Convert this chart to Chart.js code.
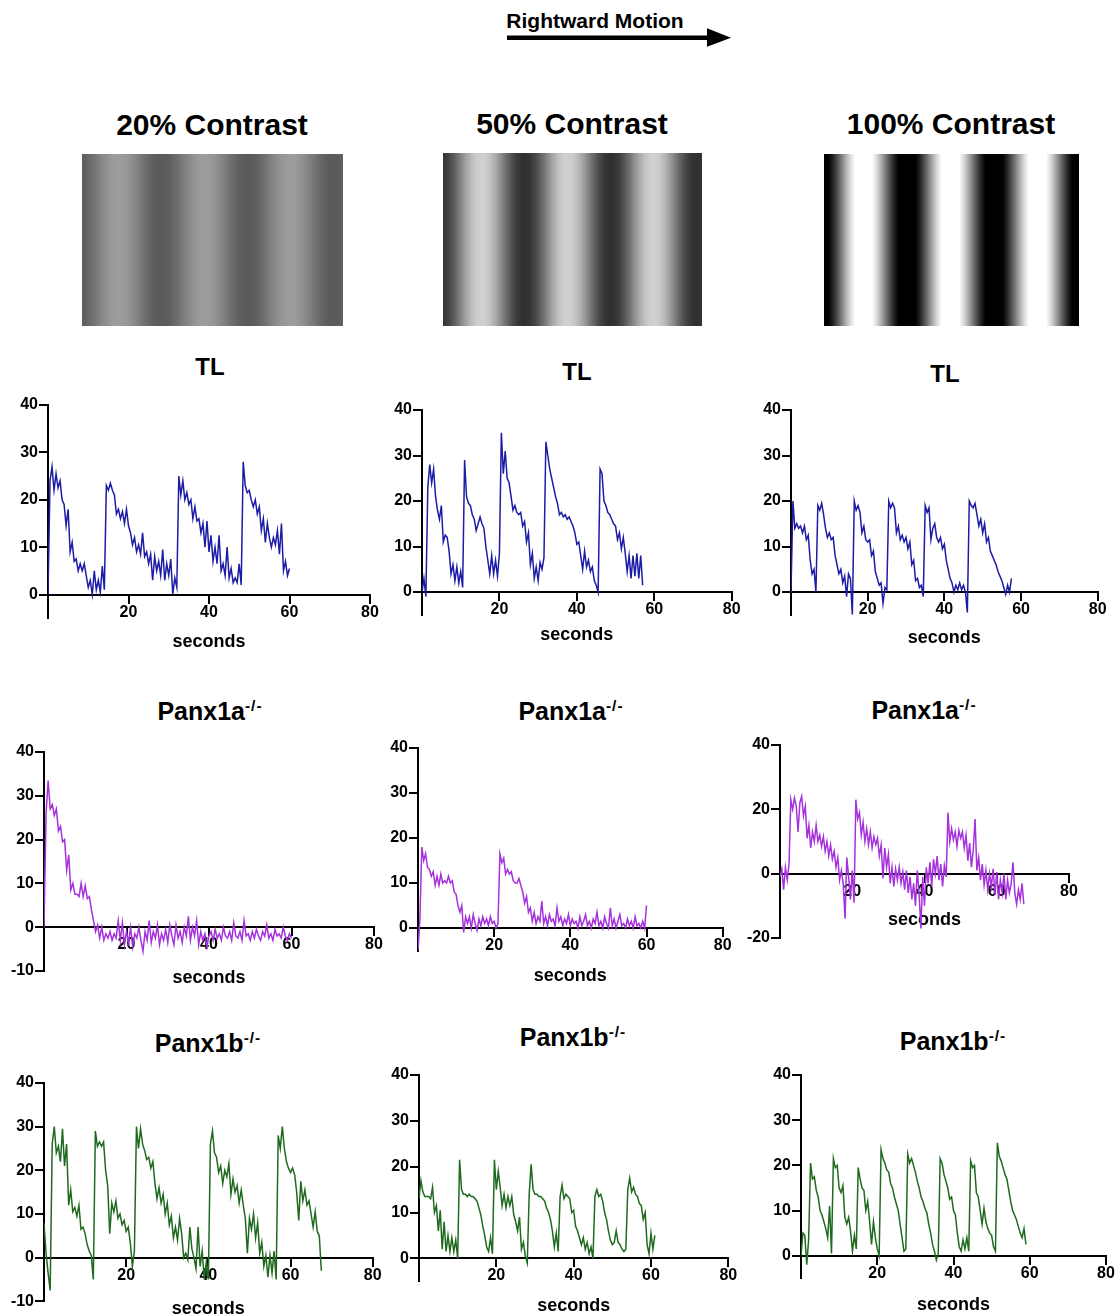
<!DOCTYPE html>
<html>
<head>
<meta charset="utf-8">
<script src="https://cdn.jsdelivr.net/npm/chart.js@4.4.0/dist/chart.umd.min.js"></script>
<style>
  body { margin:0; background:#fff; width:1116px; height:1315px; position:relative; overflow:hidden;
         font-family:"Liberation Sans", Arial, sans-serif; font-weight:bold; color:#000; }
  .t { position:absolute; transform:translate(-50%,-50%); white-space:nowrap; line-height:1; }
  .t sup { font-size:62%; vertical-align:0.55em; line-height:0; letter-spacing:1px; }
  .box { position:absolute; }
  .grat { position:absolute; }
</style>
</head>
<body>

<!-- header -->
<div class="t" style="left:595px;top:20px;font-size:21px">Rightward Motion</div>
<svg style="position:absolute;left:0;top:0" width="1116" height="60">
  <rect x="507" y="35.5" width="202" height="4.5" fill="#000"/>
  <polygon points="707,28.3 731,37.7 707,46.7" fill="#000"/>
</svg>

<div class="t" style="left:212px;top:125px;font-size:30px">20% Contrast</div>
<div class="t" style="left:572px;top:124px;font-size:30px">50% Contrast</div>
<div class="t" style="left:951px;top:124px;font-size:30px">100% Contrast</div>

<div class="t" style="left:210px;top:367px;font-size:24px">TL</div>
<div class="t" style="left:577px;top:372px;font-size:24px">TL</div>
<div class="t" style="left:945px;top:374px;font-size:24px">TL</div>

<div class="t" style="left:210px;top:711px;font-size:25px">Panx1a<sup>-/-</sup></div>
<div class="t" style="left:571px;top:711px;font-size:25px">Panx1a<sup>-/-</sup></div>
<div class="t" style="left:924px;top:710px;font-size:25px">Panx1a<sup>-/-</sup></div>

<div class="t" style="left:208px;top:1043px;font-size:25px">Panx1b<sup>-/-</sup></div>
<div class="t" style="left:573px;top:1037px;font-size:25px">Panx1b<sup>-/-</sup></div>
<div class="t" style="left:953px;top:1041px;font-size:25px">Panx1b<sup>-/-</sup></div>

<script>

const step = 0.5;
const xTicks = [20, 40, 60, 80];
const yTicksPos = [0, 10, 20, 30, 40];
const yTicksNeg10 = [-10, 0, 10, 20, 30, 40];
const yTicksNeg20 = [-20, 0, 20, 40];

// TL
const tl20 = [0,24,27,22,25.5,22.5,24,20,19,14.5,18,9,11,7,7.5,5,6.5,5,6.5,4,1.5,3,0,5,1,3,0.5,6,1,
  23,22,23.5,22,21,17,18,16,17.5,15,18,14.5,13,10.5,12,9,10.5,8.5,13,8,9,6.5,8.5,3,8,5,7,4,9.5,3,6.5,4,7.5,0,3.5,1.5,
  25,21,24,20,21.5,19,20,16,18.5,15.5,16,13,15,10,15.5,9,12.5,7,10,6.5,12.5,5,6.5,4,10,3.5,5.5,2.5,3.5,2.5,6.5,2,
  28,23,21.5,22,20,18.5,20,17,18.5,13.5,16,11,15,12,10,12,10.5,13.5,8.5,15,5,7,4,5.5];

const tl50 = [0,3,-1,23,28,24,27,21,18,16,19,11,12.5,12,9,4,6,2.5,5.5,2,4.5,1,
  29,21,19.5,19,17,16,13.5,15,16.5,15,14,10,7,4,8,4,7,3.5,8.5,
  35,26,31,25,24,21,18,19,17.5,17,17.5,14.5,15.5,11,13,6,8.5,3,5.5,2.5,6.5,5,7.5,
  33,30,27,25,23,21,19.5,17,17.5,16.5,17,16,16.5,15.5,14.5,13,10.5,11,8,5,9,5.5,7,4.5,5.5,2.5,1.5,0,
  27,26,20,19,17.5,17,16,15,14.5,11.5,13,9.5,12,8.5,4.5,8,3,8,3.5,8.5,3,8,1.5];

const tl100 = [0,20,14,15,14,14.5,13,14.5,11.5,12.5,7,4,5,0,
  19,18,19.5,17,14,12,13,11.5,12,8,6,4,5,2,3.5,-1,4,3,-5,
  20,18,19,17.5,13,14.5,11.5,11,11.5,8,9,4.5,3,1.5,2,-2.5,1,0.5,
  20,18.5,19.5,18.5,13,14.5,11.5,12.5,11,12,9.5,11,6,7,2.5,3,1,1.5,-1,
  19,17.5,18.5,11.5,14,15,12,11,12,9.5,10.5,7,5,3,2,0,1.5,0.5,2,0.5,1.5,0,-4.5,
  20,19,18.5,19.5,17,14.5,16,13,15,11,12,9,8,7,6,4.5,3.5,2.5,1,-0.5,1.5,0,3];

// Panx1a-/-
const a20 = [0,26,33.5,27,28,25.5,27,22,23,19.5,20,13,16.5,8.5,10,7.5,7.5,7,10,7,9.5,6.5,7,4,1.5,-1,0.5,-2.5,0,
  -3,-1.5,-2.5,-1,-3,-1.5,-2.5,1.5,-3,1,-4,-1,-3.5,0,-4.5,-1.5,-2.5,0,-3,-5.5,-1,-3,1.5,-3.5,-1,-2.5,0.5,-4,
  -1.5,-3,-0.5,-3.5,0.5,-2,-4,0.5,-2.5,-1,-3.5,0,-2,2.5,-3,0,-2,1.5,-4,-1,-3,-1.5,-4.5,-2,-1,-3,-0.5,-2.5,
  -1.5,-3,0,-2,-2.5,-1,-3,1,-2,-2.5,-1,-3,1.5,-2,-1.5,-3,-1,-2.5,-0.5,-2,-3,-1,-2,0.5,-2.5,-1.5,-3,-0.5,-2,
  -1.5,-2.5,0,-2,-3,-1.5,-2.5];

const a50 = [-5,2,18,15,16.5,13.5,13,11.5,12.5,9.5,11.5,9.5,12,10,10.5,10,11.5,10,10.5,8,7.5,5,3.5,5,-1,2.5,1,2.5,
  0,3,1,-0.5,2,0.5,2.5,1,2,0.5,2.5,1,1.5,0,1,
  16.5,14.5,15.5,12,13,12,12.5,10.5,10,10,11,9.5,8,5.5,7,3.5,4.5,1.5,3.5,1,2.5,1.5,6,1,2.5,0.5,3,1.5,2,0.5,
  4.5,1.5,2.5,0.5,2,1,3,0.5,2,1,1.5,0,2.5,0.5,1.5,3,0.5,1.5,0,2,1,3.5,0.5,1.5,0,2.5,1,0,4.5,0.5,2,0,1.5,3,
  0.5,1,0,2,0.5,1.5,0,2.5,0.5,1,0,1.5,0,5];

const a100 = [-1,1.5,-5,2,-2,3,23,20,23.5,21,13,22,24,18,21,11,15,8,13,10,15,10,12,8.5,11.5,7,10,5.5,9,4.5,7,2,5,
  -2,1,-3,-14,5,-1,-8,1,-9,
  23,17,19,12,16,10,14,9,13,8,11.5,9,11,5.5,9,-1.5,8,2,6,-3,2,-4,1.5,-2,2,-3,0.5,-5,1,-6,-1,-8,-3,-10,1,-6,
  -17,-1,-10,2,-3,3.5,-4,4.5,0,5.5,-2,3,-4,2.5,-1,
  19,10,14,10.5,13,8.5,13.5,11,13,8,12,4,9.5,2,7.5,17,1,5,-2,3,-3.5,1,-5,0,-4,1.5,-6.5,0.5,-8,-2,-6,0,-8,
  -2,-6,-3,3.5,-6,-9.5,-5,-8,-3,-9.5];

// Panx1b-/-
const b20 = [8,1,-3.5,-7.5,26,30,24,25.5,22,29.5,21,26,12,15.5,10.5,11.5,9.5,12,6.5,7,5.5,3,1.5,0.5,-5,
  29,25.5,26.5,25.5,26.5,20,16.5,5.5,12.5,10.5,13,9,10,7.5,8.5,6,7,3.5,-2,1.5,
  30,25,29.5,26,24.5,22.5,23,20.5,22,17,13.5,16,12.5,14.5,10,12.5,7.5,9.5,4.5,7,4,9,5.5,0,1,-0.5,7,2,0,
  -2.5,7,-2,1.5,-5,-1,-5,
  26,29,24,23,19.5,21,17,20,18.5,21.5,14.5,18,15,16.5,12.5,15.5,12,9,1,9,6.5,10,4.5,8,1,3.5,-2,0.5,-4.5,
  0.5,-3.5,1.5,-5,
  28,25,30,25,22,20.5,19.5,20.5,19,15,8.5,17.5,13,15.5,12,13,10,7,10.5,6,5,-3];

const b50 = [13,17,14.5,13.5,13.5,13.5,13,15.5,10,11.5,6,10.5,2,8,1.5,5,1.5,4.5,1.5,4,0,
  21.5,15,14,14,13.5,14,13.5,13.5,13,12.5,11,9.5,7,5,2.5,1.5,4.5,1,
  21.5,15,19,15.5,11.5,14,11,13.5,11.5,13.5,9.5,8,6,9,2,3.5,0.5,-1,
  14,20.5,15,14,14,13.5,13.5,13,12.5,11,10,8.5,6,2.5,5.5,1.5,
  13.5,16,13,14,13.5,13,10,10.5,7,6,4.5,3,4.5,2,3.5,1,2.5,0,
  13.5,15,13.5,14,12.5,10,8.5,6,4,3,3.5,6,3.5,3,2,1.5,2,
  15,17.5,14.5,15.5,14,13.5,12,11.5,8.5,10,3,1,5.5,2,5];

const b100 = [0,5,4.5,-2,3.5,20.5,17,17.5,14.5,13,10,9,7.5,6,4,11,0.5,
  21.5,19.5,20,15,14,15.5,8.5,7,8.5,5.5,1,4.5,1.5,
  19.5,17,15,14.5,10,12,7.5,2.5,7.5,4,1.5,0,
  23.5,21.5,20.5,19,18.5,16,15,13,11.5,10,7,4,1,1.5,
  22.5,20.5,21.5,20,18.5,16.5,15,13,12,10.5,9.5,7,5,2.5,1,-1,0.5,
  21.5,20.5,18,16.5,15,12.5,13,10,9,5,2,1,3.5,1.5,4,1,
  21,19.5,20,14,13,10,7,10.5,7.5,6,5,4.5,2,1,
  25,22,21,19.5,18,17,14.5,12,10,9,8,6.5,5,4,6,2.5];

// ********* Layout of each panel: plot area in page pixels *********

const BLUE = '#1c1ca6', PURPLE = '#a532dc', GREEN = '#1f6a1f';
const FONT = '"Liberation Sans", Arial, sans-serif';

const panels = [
  { vals: tl20,  color: BLUE,   l: 48,  r: 370,  t: 404.5,  b: 617.7, yMin: -5,  yTicks: yTicksPos,   secPad: 10 },
  { vals: tl50,  color: BLUE,   l: 422, r: 731.7, t: 409.7, b: 614.5, yMin: -5,  yTicks: yTicksPos,   secPad: 5 },
  { vals: tl100, color: BLUE,   l: 791, r: 1097.7, t: 409.7, b: 614.5, yMin: -5, yTicks: yTicksPos,   secPad: 8 },
  { vals: a20,   color: PURPLE, l: 44,  r: 374,  t: 752,    b: 971,   yMin: -10, yTicks: yTicksNeg10, secPad: 13 },
  { vals: a50,   color: PURPLE, l: 418, r: 722.7, t: 747.7, b: 950.2, yMin: -5,  yTicks: yTicksPos,   secPad: 10 },
  { vals: a100,  color: PURPLE, l: 780, r: 1069, t: 745,    b: 938,   yMin: -20, yTicks: yTicksNeg20, secPad: 8 },
  { vals: b20,   color: GREEN,  l: 44,  r: 372.7, t: 1082.7, b: 1301, yMin: -10, yTicks: yTicksNeg10, secPad: 13 },
  { vals: b50,   color: GREEN,  l: 419, r: 728.3, t: 1074.7, b: 1281, yMin: -5,  yTicks: yTicksPos,   secPad: 10 },
  { vals: b100,  color: GREEN,  l: 800.7, r: 1105.7, t: 1075.3, b: 1278.6, yMin: -5, yTicks: yTicksPos, secPad: 11 }
];

// ********* Gratings (stimulus pictures) *********

function grating(x, y, w, h, mean, amp, lightAt, period) {
  const c = document.createElement('canvas');
  c.width = w; c.height = h;
  c.className = 'grat';
  c.style.left = x + 'px'; c.style.top = y + 'px';
  const ctx = c.getContext('2d');
  for (let i = 0; i < w; i++) {
    let g = mean + amp * Math.cos(2 * Math.PI * (x + i - lightAt) / period);
    g = Math.round(Math.max(0, Math.min(255, g)));
    ctx.fillStyle = `rgb(${g},${g},${g})`;
    ctx.fillRect(i, 0, 1, h);
  }
  document.body.appendChild(c);
}

grating(82, 154, 261, 172, 123, 33, 118, 86);
grating(443, 153, 259, 173, 128, 80, 481, 86);
grating(824, 154, 255, 172, 128, 155, 863, 87);

// ********* Charts *********

const padL = 44, padT = 20, padR = 26, padB = 62;

function tickFont() { return { family: FONT, size: 16, weight: 'bold' }; }

panels.forEach(p => {
  const W = Math.round(p.r - p.l + padL + padR);
  const H = Math.round(p.b - p.t + padT + padB);
  const div = document.createElement('div');
  div.className = 'box';
  div.style.left = (p.l - padL) + 'px';
  div.style.top = (p.t - padT) + 'px';
  div.style.width = W + 'px';
  div.style.height = H + 'px';
  const cv = document.createElement('canvas');
  cv.width = W; cv.height = H;
  cv.style.width = W + 'px'; cv.style.height = H + 'px';
  div.appendChild(cv);
  document.body.appendChild(div);

  const areaH = p.b - p.t;
  const bottomPad = H - padT - areaH;

  new Chart(cv, {
    type: 'line',
    data: {
      datasets: [{
        data: p.vals.map((v, i) => ({ x: i * step, y: v })),
        borderColor: p.color,
        borderWidth: 1.5,
        pointRadius: 0,
        tension: 0,
        fill: false
      }]
    },
    options: {
      responsive: false,
      animation: false,
      layout: { padding: { left: 0, top: padT, right: W - padL - (p.r - p.l), bottom: bottomPad } },
      plugins: { legend: { display: false }, tooltip: { enabled: false } },
      scales: {
        x: {
          type: 'linear', min: 0, max: 80,
          position: { y: 0 },
          afterBuildTicks: s => { s.ticks = xTicks.map(v => ({ value: v })); },
          grid: { drawOnChartArea: false, color: '#000', lineWidth: 2, tickLength: 8 },
          border: { color: '#000', width: 2 },
          ticks: { color: '#000', font: tickFont(), padding: 0, maxRotation: 0, autoSkip: false },
          title: { display: true, text: 'seconds', color: '#000',
                   font: { family: FONT, size: 18, weight: 'bold' },
                   padding: { top: p.secPad, bottom: 0 } }
        },
        y: {
          type: 'linear', min: p.yMin, max: 40,
          afterBuildTicks: s => { s.ticks = p.yTicks.map(v => ({ value: v })); },
          afterFit: s => { s.width = padL; },
          grid: { drawOnChartArea: false, color: '#000', lineWidth: 2, tickLength: 9 },
          border: { color: '#000', width: 2 },
          ticks: { color: '#000', font: tickFont(), padding: 1, autoSkip: false }
        }
      }
    }
  });
});
</script>
</body>
</html>
